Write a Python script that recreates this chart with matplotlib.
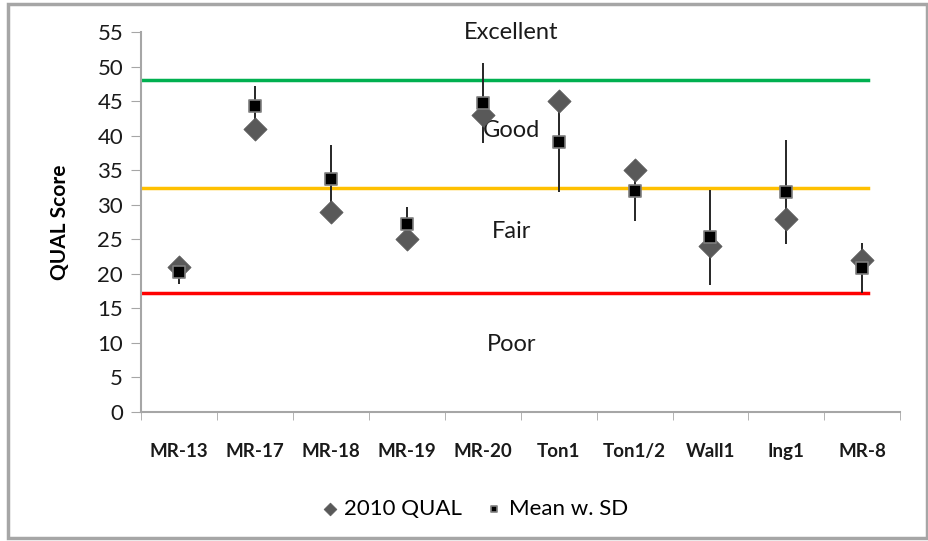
import numpy as np
import matplotlib.pyplot as plt
from matplotlib.patches import Rectangle

plt.rcParams['font.family'] = ['Lato', 'DejaVu Sans']

# sites and scores
sites = ['MR-13', 'MR-17', 'MR-18', 'MR-19', 'MR-20', 'Ton1', 'Ton1/2', 'Wall1', 'Ing1', 'MR-8']
qual_2010 = [21, 41, 29, 25, 43, 45, 35, 24, 28, 22]
mean_qual = [20.2, 44.3, 33.7, 27.2, 44.7, 39.1, 32.0, 25.3, 31.8, 20.8]
sd_qual = [1.7, 2.9, 4.9, 2.5, 5.8, 7.2, 4.4, 6.9, 7.5, 3.6]

# class limits
thresholds = [48.0, 32.4, 17.2]
threshold_colors = ['#00b050', '#ffc000', '#ff0000']
class_names = ['Excellent', 'Good', 'Fair', 'Poor']
class_y = [54.9, 40.7, 26.1, 9.7]

x = np.arange(len(sites))

fig = plt.figure(figsize=(9.29, 5.41), dpi=100)
ax = fig.add_axes([0.152, 0.2384, 0.817, 0.7025])

# frame around the chart
fig.patches.append(Rectangle((0.009, 0.005), 0.989, 0.987, transform=fig.transFigure,
                             fill=False, edgecolor='#a6a6a6', linewidth=2.5))

for yv, c in zip(thresholds, threshold_colors):
    ax.plot([-0.5, 9.08], [yv, yv], color=c, linewidth=2.5, zorder=1)

for name, yv in zip(class_names, class_y):
    ax.text(4.38, yv, name, ha='center', va='center', fontsize=17, color='#1a1a1a', zorder=2)

ax.errorbar(x, mean_qual, yerr=sd_qual, fmt='none', ecolor='#262626', elinewidth=1.4,
            capsize=0, zorder=3)
ax.scatter(x, qual_2010, marker='D', s=140, color='#595959', edgecolors='#595959',
           linewidths=0.5, zorder=4, label='2010 QUAL')
ax.scatter(x, mean_qual, marker='s', s=75, color='black', edgecolors='#7f7f7f',
           linewidths=1.2, zorder=5, label='Mean w. SD')

ax.set_xlim(-0.5, 9.5)
ax.set_ylim(0, 55)
ax.set_yticks(np.arange(0, 56, 5))
ax.set_xticks(x)
ax.set_xticklabels(sites, fontsize=13.5, fontweight='bold', color='#1a1a1a')
ax.set_xticks(np.arange(-0.5, 10, 1), minor=True)
ax.tick_params(axis='x', which='major', length=0, pad=22)
ax.tick_params(axis='x', which='minor', length=6, color='#a6a6a6', direction='out')
ax.tick_params(axis='y', length=7, color='#a6a6a6', labelsize=16, labelcolor='#1a1a1a', pad=6)
ax.set_ylabel('QUAL Score', fontsize=15, fontweight='bold', labelpad=20)

for s in ['top', 'right']:
    ax.spines[s].set_visible(False)
for s in ['left', 'bottom']:
    ax.spines[s].set_color('#a6a6a6')
    ax.spines[s].set_linewidth(1.5)

leg = ax.legend(loc='center', bbox_to_anchor=(0.44, -0.255), ncol=2, frameon=False,
                fontsize=16, handlelength=0.7, handletextpad=0.3, columnspacing=1.1,
                markerscale=0.55)

fig.savefig('out.png', dpi=100)
